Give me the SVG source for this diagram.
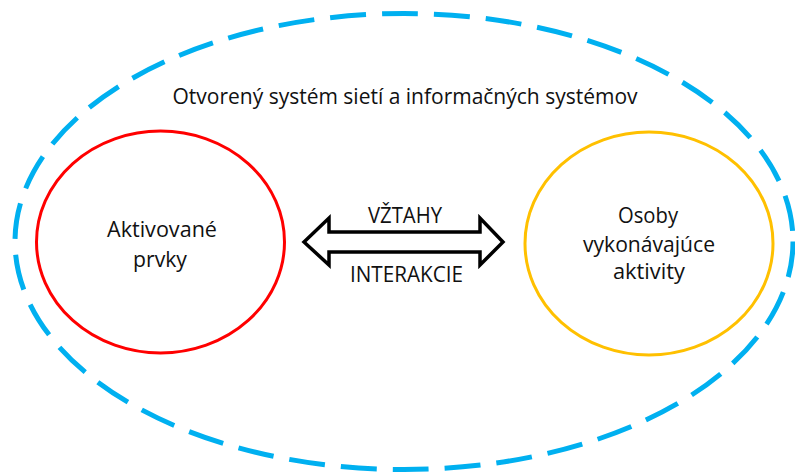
<svg xmlns="http://www.w3.org/2000/svg" width="795" height="472" viewBox="0 0 795 472">
<style>
text{font-family:"Open Sans","Noto Sans","Liberation Sans",sans-serif;font-size:21px;fill:#111;text-anchor:middle}
.outer{fill:none;stroke:#00B0F0;stroke-width:5;stroke-dasharray:36 16}
.red{fill:none;stroke:#FF0000;stroke-width:3}
.yel{fill:none;stroke:#FFC000;stroke-width:3}
.arrow{fill:#fff;stroke:#000;stroke-width:3.5;stroke-linejoin:miter}
</style>
<rect width="795" height="472" fill="#fff"/>
<g id="system">
<ellipse class="outer" cx="404" cy="241.5" rx="389" ry="228"/>
<text x="405" y="104" textLength="465" lengthAdjust="spacingAndGlyphs">Otvorený systém sietí a informačných systémov</text>
</g>
<g id="aktivovane">
<ellipse class="red" cx="160.5" cy="242" rx="124" ry="111"/>
<text x="162" y="237" textLength="110" lengthAdjust="spacingAndGlyphs">Aktivované</text>
<text x="160" y="266.5" textLength="54" lengthAdjust="spacingAndGlyphs">prvky</text>
</g>
<g id="osoby">
<ellipse class="yel" cx="649" cy="243.5" rx="124" ry="111.5"/>
<text x="648" y="223" textLength="60" lengthAdjust="spacingAndGlyphs">Osoby</text>
<text x="649" y="251.5" textLength="132" lengthAdjust="spacingAndGlyphs">vykonávajúce</text>
<text x="649" y="279" textLength="72" lengthAdjust="spacingAndGlyphs">aktivity</text>
</g>
<g id="connectors">
<polygon class="arrow" points="304,242 329,218 329,232 480,232 480,218 503,242 480,265 480,252 329,252 329,265"/>
<text x="405" y="223" textLength="74" lengthAdjust="spacingAndGlyphs">VŽTAHY</text>
<text x="406.5" y="282" textLength="113" lengthAdjust="spacingAndGlyphs">INTERAKCIE</text>
</g>
</svg>
